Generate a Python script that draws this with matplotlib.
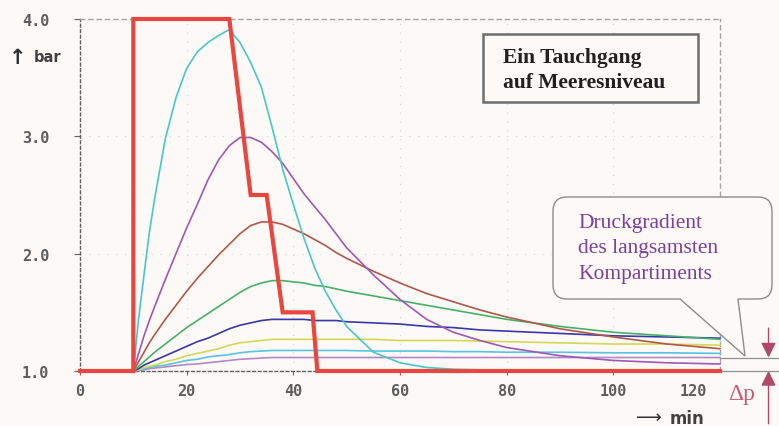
import matplotlib
matplotlib.use("Agg")
import matplotlib.pyplot as plt
from matplotlib.path import Path
from matplotlib.patches import PathPatch, Rectangle

# --- dive profile (ambient pressure, bar) ---
dive_t = [0, 10, 10, 28, 32, 35, 38, 43.6, 44.5, 120]
dive_p = [1.0, 1.0, 4.0, 4.0, 2.5, 2.5, 1.5, 1.5, 1.0, 1.0]

# --- compartment pressures (bar) sampled at these times (min) ---
t = [10, 11, 12, 13, 14, 16, 18, 20, 22, 24, 26, 28, 30, 32, 34, 36, 38, 40,
     42, 44, 46, 48, 50, 55, 60, 65, 70, 75, 80, 90, 100, 110, 120]

comp_1 = [1.00, 1.45, 1.82, 2.18, 2.47, 2.98, 3.33, 3.58, 3.72, 3.80, 3.86, 3.91, 3.80, 3.63, 3.42, 3.08, 2.72, 2.42,
          2.13, 1.88, 1.68, 1.52, 1.38, 1.16, 1.07, 1.03, 1.015, 1.01, 1.005, 1.0, 1.0, 1.0, 1.0]
comp_2 = [1.00, 1.15, 1.30, 1.43, 1.55, 1.78, 2.00, 2.22, 2.42, 2.63, 2.80, 2.92, 2.99, 2.99, 2.95, 2.87, 2.77, 2.64,
          2.51, 2.40, 2.29, 2.17, 2.05, 1.82, 1.61, 1.44, 1.33, 1.26, 1.20, 1.13, 1.09, 1.07, 1.06]
comp_3 = [1.00, 1.08, 1.16, 1.24, 1.31, 1.44, 1.56, 1.68, 1.79, 1.89, 1.99, 2.08, 2.17, 2.24, 2.27, 2.27, 2.25, 2.21,
          2.17, 2.12, 2.07, 2.01, 1.96, 1.85, 1.75, 1.66, 1.59, 1.52, 1.46, 1.36, 1.29, 1.23, 1.19]
comp_4 = [1.00, 1.04, 1.08, 1.12, 1.16, 1.23, 1.30, 1.37, 1.43, 1.49, 1.55, 1.61, 1.67, 1.72, 1.75, 1.77, 1.77, 1.76,
          1.75, 1.73, 1.72, 1.70, 1.68, 1.64, 1.60, 1.56, 1.52, 1.48, 1.44, 1.38, 1.33, 1.30, 1.27]
comp_5 = [1.00, 1.02, 1.05, 1.07, 1.09, 1.13, 1.17, 1.21, 1.25, 1.28, 1.32, 1.36, 1.39, 1.41, 1.43, 1.44, 1.44, 1.44,
          1.44, 1.43, 1.43, 1.43, 1.42, 1.41, 1.40, 1.38, 1.37, 1.35, 1.34, 1.32, 1.30, 1.29, 1.28]
comp_6 = [1.00, 1.01, 1.03, 1.04, 1.05, 1.08, 1.10, 1.13, 1.15, 1.17, 1.19, 1.22, 1.24, 1.25, 1.26, 1.27, 1.27, 1.27,
          1.27, 1.27, 1.27, 1.27, 1.27, 1.27, 1.26, 1.26, 1.26, 1.255, 1.25, 1.24, 1.23, 1.23, 1.22]
comp_7 = [1.00, 1.01, 1.02, 1.03, 1.04, 1.05, 1.07, 1.09, 1.10, 1.12, 1.13, 1.14, 1.155, 1.165, 1.17, 1.175, 1.175, 1.175,
          1.175, 1.175, 1.175, 1.175, 1.175, 1.17, 1.17, 1.17, 1.165, 1.165, 1.16, 1.16, 1.155, 1.155, 1.15]
comp_8 = [1.00, 1.005, 1.01, 1.02, 1.025, 1.035, 1.045, 1.055, 1.06, 1.07, 1.08, 1.09, 1.10, 1.105, 1.11, 1.115, 1.115, 1.115,
          1.115, 1.115, 1.115, 1.115, 1.115, 1.115, 1.115, 1.115, 1.115, 1.115, 1.115, 1.115, 1.115, 1.115, 1.115]

compartments = [comp_8, comp_7, comp_6, comp_5, comp_4, comp_3, comp_2, comp_1]
comp_colors = ["#b488c4", "#58c4e0", "#d4d858", "#3838a8", "#48b068", "#b05848", "#a058b4", "#48c8c4"]

x_ticks = [0, 20, 40, 60, 80, 100]
x_ticklabels = ["0", "20", "40", "60", "80", "100"]
y_ticks = [1.0, 2.0, 3.0, 4.0]
y_ticklabels = ["1.0", "2.0", "3.0", "4.0"]

BG = "#fcf9f7"
W, H = 779, 427


def fx(px):
    return px / W


def fy(py):
    return 1 - py / H


fig = plt.figure(figsize=(W / 100, H / 100), dpi=100, facecolor=BG)
ax = fig.add_axes([fx(80), fy(372), fx(720) - fx(80), fy(20) - fy(372)])
ax.set_facecolor(BG)
ax.set_xlim(0, 120)
ax.set_ylim(1.0, 4.0)

# faint dotted grid
for gx in [20, 40, 60, 80, 100]:
    ax.axvline(gx, color="#d9d4d2", lw=0.8, ls=(0, (1, 7)), zorder=0)
for gy in [2.0, 3.0]:
    ax.axhline(gy, color="#d9d4d2", lw=0.8, ls=(0, (1, 7)), zorder=0)

# frame
for side in ["top", "right"]:
    ax.spines[side].set_linestyle((0, (3, 3)))
    ax.spines[side].set_color("#a8a4a2")
    ax.spines[side].set_linewidth(1.0)
for side in ["left", "bottom"]:
    ax.spines[side].set_linestyle((0, (2, 2)))
    ax.spines[side].set_color("#606060")
    ax.spines[side].set_linewidth(1.0)

for vals, col in zip(compartments, comp_colors):
    ax.plot(t, vals, color=col, lw=1.2, zorder=3, clip_on=False)

ax.plot(dive_t, dive_p, color="#e8463e", lw=3.0, zorder=5, clip_on=False,
        solid_joinstyle="miter")

tick_font = dict(family="DejaVu Sans Mono", weight="bold", size=11, color="#5e5e5e")
ax.set_xticks(x_ticks)
ax.set_xticklabels(x_ticklabels, **tick_font)
ax.set_yticks(y_ticks)
ax.set_yticklabels(y_ticklabels, **tick_font)
ax.tick_params(axis="x", length=3, width=0.8, color="#b05050", pad=6)
ax.tick_params(axis="y", length=4, width=0.8, color="#606060", pad=18)
ax.text(115, -20 / 352, "120", transform=ax.get_xaxis_transform(), ha="center", va="center",
        clip_on=False, **tick_font)

# axis unit labels
fig.text(fx(18), fy(58), "\u2191", family="DejaVu Sans", fontsize=15, fontweight="bold",
         color="#303030", ha="center", va="center")
fig.text(fx(34), fy(57), "bar", family="DejaVu Sans", fontsize=10.5, fontweight="bold",
         color="#404040", ha="left", va="center")
fig.text(fx(649), fy(418), "\u27f6", family="DejaVu Sans", fontsize=13, color="#303030",
         ha="center", va="center")
fig.text(fx(670), fy(419), "min", family="DejaVu Sans", fontsize=12, fontweight="bold",
         color="#404040", ha="left", va="center")

# title box
fig.patches.append(Rectangle((fx(483), fy(103)), fx(698) - fx(483), fy(35) - fy(103),
                             transform=fig.transFigure, facecolor=BG, edgecolor="#6e6e6e",
                             lw=1.8, zorder=6))
fig.text(fx(503), fy(58), "Ein Tauchgang", family="Liberation Serif", fontweight="bold",
         fontsize=15.5, color="#202020", ha="left", va="center", zorder=7)
fig.text(fx(503), fy(83), "auf Meeresniveau", family="Liberation Serif", fontweight="bold",
         fontsize=15.5, color="#202020", ha="left", va="center", zorder=7)

# speech bubble
L, R, T, B, r = 553, 772, 198, 300, 14
tip = (745, 357)
verts = [
    (L + r, T), (R - r, T), (R, T), (R, T + r), (R, B - r), (R, B), (R - r, B),
    (738, B), tip, (680, B), (L + r, B), (L, B), (L, B - r), (L, T + r), (L, T), (L + r, T),
]
codes = [Path.MOVETO, Path.LINETO, Path.CURVE3, Path.CURVE3, Path.LINETO, Path.CURVE3, Path.CURVE3,
         Path.LINETO, Path.LINETO, Path.LINETO, Path.LINETO, Path.CURVE3, Path.CURVE3, Path.LINETO,
         Path.CURVE3, Path.CURVE3]
fverts = [(fx(a), fy(b)) for a, b in verts]
fig.patches.append(PathPatch(Path(fverts, codes), transform=fig.transFigure,
                             facecolor=BG, edgecolor="#8c8c8c", lw=1.0, zorder=6))
for i, line in enumerate(["Druckgradient", "des langsamsten", "Kompartiments"]):
    fig.text(fx(578), fy(224 + 25 * i), line, family="Liberation Serif", fontsize=15.5,
             color="#7d3f9c", ha="left", va="center", zorder=7)

# pressure gradient of the slowest compartment
p_slow = comp_8[-1]
ax.plot([120, 131.5], [p_slow, p_slow], color="#909090", lw=0.9, clip_on=False, zorder=4)
ax.plot([120, 131.5], [1.0, 1.0], color="#909090", lw=0.9, clip_on=False, zorder=4)
arrow_style = dict(arrowstyle="-|>,head_length=0.5,head_width=0.25", color="#b04868",
                   lw=1.0, mutation_scale=18, shrinkA=0, shrinkB=0)
ax.annotate("", xy=(129.1, p_slow), xytext=(129.1, p_slow + 0.25), xycoords="data",
            arrowprops=arrow_style, annotation_clip=False)
ax.annotate("", xy=(129.1, 1.0), xytext=(129.1, 0.55), xycoords="data",
            arrowprops=arrow_style, annotation_clip=False)
fig.text(fx(742), fy(395), "\u0394p", family="Liberation Serif", fontsize=17,
         color="#c85a78", ha="center", va="center")

fig.savefig("out.png", dpi=100, facecolor=BG)
